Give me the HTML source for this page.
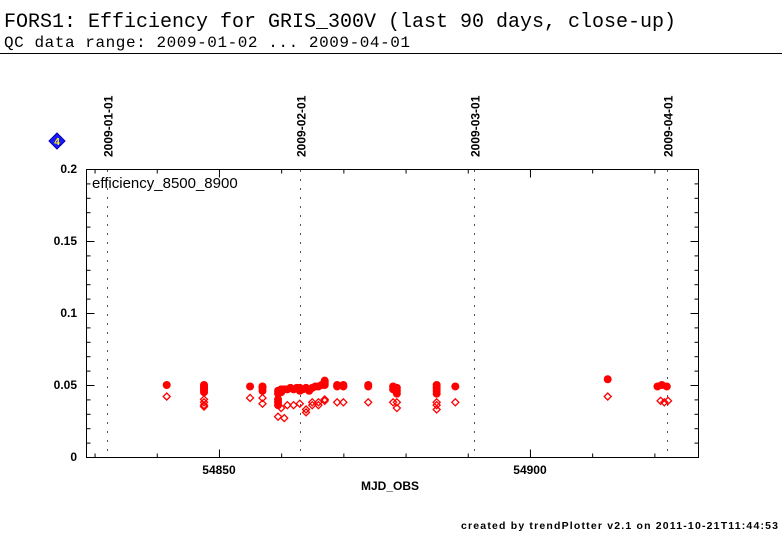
<!DOCTYPE html>
<html><head><meta charset="utf-8"><style>
body{margin:0;background:#fff;width:782px;height:542px;overflow:hidden}
svg{display:block}
</style></head><body>
<svg id="c" width="782" height="542" xmlns="http://www.w3.org/2000/svg">
<text x="4" y="27" font-family="Liberation Mono, monospace" font-size="20" textLength="672">FORS1: Efficiency for GRIS_300V (last 90 days, close-up)</text>
<text x="4" y="47" font-family="Liberation Mono, monospace" font-size="16" textLength="406">QC data range: 2009-01-02 ... 2009-04-01</text>
<line x1="0" y1="53.5" x2="782" y2="53.5" stroke="#000" stroke-width="1"/>
<g><polygon points="57,133 65,141 57,149 49,141" fill="#1a1aff" stroke="#0000aa"/><text x="57" y="145" font-family="Liberation Sans, sans-serif" font-size="10" font-weight="bold" fill="#ff0" text-anchor="middle">4</text></g>
<rect x="86.5" y="169.5" width="612" height="288" fill="none" stroke="#000"/>
<text x="92" y="188" font-family="Liberation Sans, sans-serif" font-size="15">efficiency_8500_8900</text>
<text x="390" y="490" font-family="Liberation Sans, sans-serif" font-size="12" font-weight="bold" text-anchor="middle">MJD_OBS</text>
<text x="778" y="529" font-family="Liberation Sans, sans-serif" font-size="10.5" font-weight="bold" text-anchor="end" textLength="317">created by trendPlotter v2.1 on 2011-10-21T11:44:53</text>
<g id="axes"></g><g id="marks"></g>
</svg>
<script>
const yTicks=[0,0.05,0.1,0.15,0.2];
const yTickLabels=["0","0.05","0.1","0.15","0.2"];
const xTickLabels=[54850,54900];
const dateLabels=["2009-01-01","2009-02-01","2009-03-01","2009-04-01"];
const dateMjd=[54832,54863,54891,54922];
const filledMjd=[54841.6,54847.6,54847.6,54847.6,54847.6,54847.6,54847.6,54855,54857,54857,54857,54859.5,54859.5,54859.5,54859.5,54859.5,54860,54860,54860.5,54861,54861.5,54862,54862.5,54863,54863,54863.5,54864,54864.5,54865,54865.5,54866,54866.5,54867,54867,54867,54867,54869,54869,54870,54870,54874,54874,54878,54878,54878.6,54878.6,54878.6,54885,54885,54885,54885,54888,54912.5,54920.5,54921.2,54922];
const filledVal=[0.050,0.050,0.049,0.048,0.047,0.046,0.045,0.049,0.049,0.048,0.046,0.046,0.044,0.040,0.038,0.036,0.047,0.045,0.047,0.047,0.048,0.047,0.048,0.048,0.046,0.047,0.048,0.046,0.048,0.049,0.049,0.050,0.051,0.052,0.053,0.050,0.050,0.049,0.050,0.049,0.050,0.049,0.049,0.047,0.048,0.046,0.044,0.050,0.048,0.046,0.044,0.049,0.054,0.049,0.050,0.049];
const openMjd=[54841.6,54847.6,54847.6,54847.6,54847.6,54855,54857,54857,54859.5,54860.5,54860,54861,54862,54863,54864,54864,54865,54865,54866,54866,54867,54867,54869,54870,54874,54878,54878.6,54878.6,54885,54885,54885,54888,54912.5,54921,54921.6,54922.2];
const openVal=[0.042,0.040,0.038,0.036,0.035,0.041,0.041,0.037,0.028,0.027,0.034,0.036,0.036,0.037,0.033,0.031,0.036,0.038,0.038,0.036,0.039,0.040,0.038,0.038,0.038,0.038,0.038,0.034,0.038,0.036,0.033,0.038,0.042,0.039,0.038,0.039];
const NS="http://www.w3.org/2000/svg";
const X=m=>107+(m-54832)*6.22;
const Y=v=>457-v*1440;
const axes=document.getElementById('axes'),marks=document.getElementById('marks');
function mk(tag,at,par){const e=document.createElementNS(NS,tag);for(const k in at)e.setAttribute(k,at[k]);par.appendChild(e);return e;}
// y ticks
for(let i=0;i<=20;i++){const v=i*0.01,y=Y(v)+0.5,L=(i%5==0)?8:4;
 let t=mk('line',{x1:86.5,x2:86.5+L,y1:y,y2:y,stroke:'#000'},axes);
 
 
 let t2=mk('line',{x1:698.5,x2:698.5-L,y1:y,y2:y,stroke:'#000'},axes);
 
 }
yTicks.forEach((v,i)=>{const t=mk('text',{x:77,y:Y(v)+4,'text-anchor':'end','font-family':'Liberation Sans, sans-serif','font-size':12,'font-weight':'bold'},axes);t.textContent=yTickLabels[i];
 
 });
// x ticks
for(let m=54830;m<=54920;m+=10){const x=X(m)+0.5,L=(m%50==0)?8:4;
 let t=mk('line',{x1:x,x2:x,y1:457.5,y2:457.5-L,stroke:'#000'},axes);
 
 
 let t2=mk('line',{x1:x,x2:x,y1:169.5,y2:169.5+L,stroke:'#000'},axes);
 
 }
xTickLabels.forEach(m=>{const t=mk('text',{x:X(m),y:474,'text-anchor':'middle','font-family':'Liberation Sans, sans-serif','font-size':12,'font-weight':'bold'},axes);t.textContent=m;
 
 });
// date markers
dateMjd.forEach((m,i)=>{const x=Math.round(X(m))+0.5;
 const l=mk('line',{x1:x,x2:x,y1:170,y2:457,stroke:'#555','stroke-dasharray':'2,7'},axes);
 
 
 const t=mk('text',{x:0,y:0,transform:`translate(${x+5},157) rotate(-90)`,'font-family':'Liberation Sans, sans-serif','font-size':12,'font-weight':'bold'},axes);
 t.textContent=dateLabels[i];
 
 });
// marks
openMjd.forEach((m,i)=>{const x=X(m),y=Y(openVal[i]),r=3.5;
 const p=mk('polygon',{points:`${x},${y-r} ${x+r},${y} ${x},${y+r} ${x-r},${y}`,fill:'none',stroke:'#f00','stroke-width':1.3},marks);
 
 });
filledMjd.forEach((m,i)=>{
 const c=mk('circle',{cx:X(m),cy:Y(filledVal[i]),r:4,fill:'#f00'},marks);
 
 });
</script>
</body></html>
